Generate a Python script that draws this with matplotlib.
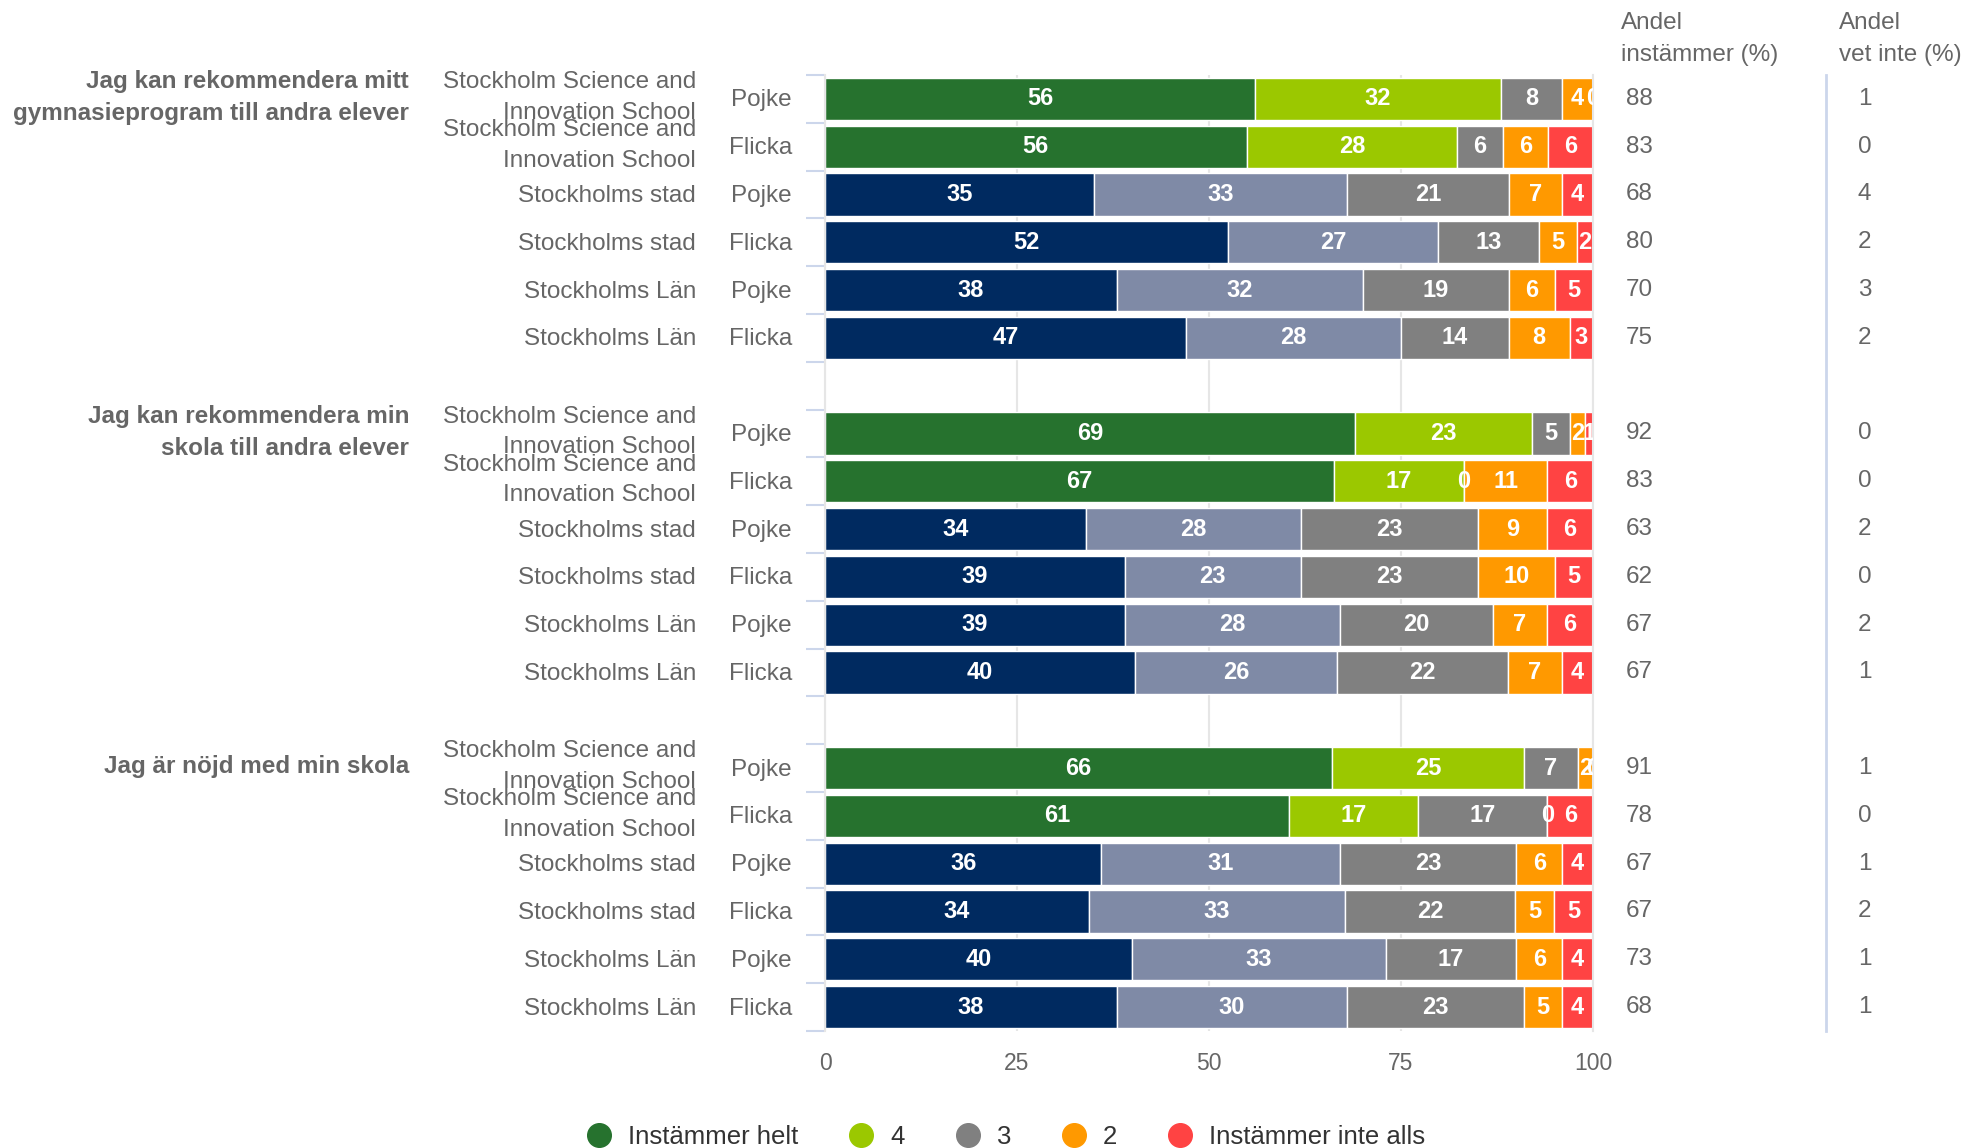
import numpy as np
import matplotlib
matplotlib.use('Agg')
import matplotlib.pyplot as plt
from matplotlib.lines import Line2D
from matplotlib.transforms import blended_transform_factory

plt.rcParams['font.family'] = ['Liberation Sans', 'DejaVu Sans']

questions = ['Jag kan rekommendera mitt\ngymnasieprogram till andra elever',
             'Jag kan rekommendera min\nskola till andra elever',
             'Jag är nöjd med min skola']
units = ['Stockholm Science and\nInnovation School', 'Stockholm Science and\nInnovation School',
         'Stockholms stad', 'Stockholms stad', 'Stockholms Län', 'Stockholms Län']
genders = ['Pojke', 'Flicka', 'Pojke', 'Flicka', 'Pojke', 'Flicka']
series_names = ['Instämmer helt', '4', '3', '2', 'Instämmer inte alls']

# columns: Instämmer helt, 4, 3, 2, Instämmer inte alls
q1_values = [[56, 32, 8, 4, 0],
             [56, 28, 6, 6, 6],
             [35, 33, 21, 7, 4],
             [52, 27, 13, 5, 2],
             [38, 32, 19, 6, 5],
             [47, 28, 14, 8, 3]]
q2_values = [[69, 23, 5, 2, 1],
             [67, 17, 0, 11, 6],
             [34, 28, 23, 9, 6],
             [39, 23, 23, 10, 5],
             [39, 28, 20, 7, 6],
             [40, 26, 22, 7, 4]]
q3_values = [[66, 25, 7, 2, 0],
             [61, 17, 17, 0, 6],
             [36, 31, 23, 6, 4],
             [34, 33, 22, 5, 5],
             [40, 33, 17, 6, 4],
             [38, 30, 23, 5, 4]]
agree_pct = [[88, 83, 68, 80, 70, 75],
             [92, 83, 63, 62, 67, 67],
             [91, 78, 67, 67, 73, 68]]
dontknow_pct = [[1, 0, 4, 2, 3, 2],
                [0, 0, 2, 0, 2, 1],
                [1, 0, 1, 2, 1, 1]]

school_colors = ['#26722e', '#9bc800', '#808080', '#ff9900', '#ff4343']
other_colors = ['#002a60', '#7f8aa6', '#808080', '#ff9900', '#ff4343']
label_grey = '#666666'

W, H = 1987, 1148
fig = plt.figure(figsize=(W / 100, H / 100), dpi=100)
ax = fig.add_axes([825 / W, 1 - 1031 / H, (1593 - 825) / W, (1031 - 75) / H])

all_values = [q1_values, q2_values, q3_values]
for g, vals in enumerate(all_values):
    for i, row in enumerate(vals):
        y = g * 7 + i
        colors = school_colors if i < 2 else other_colors
        total = float(sum(row))
        left = 0
        for k, v in enumerate(row):
            # percent stacking: each bar fills 0-100
            w = v / total * 100
            ax.barh(y, w, left=left, height=0.88, color=colors[k],
                    edgecolor='white', linewidth=1, zorder=2)
            ax.text(left + w / 2, y, str(v), ha='center', va='center', color='white',
                    fontsize=17, fontweight='bold', zorder=3, clip_on=True)
            left += w

ax.set_xlim(0, 100)
ax.set_ylim(19.5, -0.5)
ax.set_xticks([0, 25, 50, 75, 100])
ax.tick_params(axis='x', length=0, labelsize=16.5, labelcolor=label_grey, pad=15)
ax.xaxis.grid(True, color='#e6e6e6', linewidth=1.5, zorder=0)
ax.set_axisbelow(True)
ax.set_yticks(np.arange(-0.5, 20, 1))
ax.set_yticklabels([])
ax.tick_params(axis='y', length=14, width=1.5, color='#ccd6eb')
for s in ['top', 'bottom']:
    ax.spines[s].set_visible(False)
ax.spines['left'].set_color('#e6e6e6')
ax.spines['right'].set_color('#e6e6e6')
ax.spines['left'].set_linewidth(1.5)
ax.spines['right'].set_linewidth(1.5)

tr = blended_transform_factory(fig.transFigure, ax.transData)
for g in range(3):
    ax.text(409 / W, g * 7 - 0.03, questions[g], transform=tr, ha='right', va='center',
            fontsize=17.5, fontweight='bold', color=label_grey, linespacing=1.5)
    for i in range(6):
        y = g * 7 + i
        dy = -0.03 if '\n' in units[i] else 0.03
        ax.text(696 / W, y + dy, units[i], transform=tr, ha='right', va='center',
                fontsize=17.5, color=label_grey, linespacing=1.5)
        ax.text(792 / W, y + 0.03, genders[i], transform=tr, ha='right', va='center',
                fontsize=17.5, color=label_grey)
        ax.text(1626 / W, y, str(agree_pct[g][i]), transform=tr, ha='left',
                va='center', fontsize=17.5, color=label_grey)
        ax.text(1858 / W, y, str(dontknow_pct[g][i]), transform=tr, ha='left',
                va='center', fontsize=17.5, color=label_grey)

fig.text(1621 / W, 1 - 12 / H, 'Andel\ninstämmer (%)', ha='left', va='top',
         fontsize=17.5, color=label_grey, linespacing=1.6)
fig.text(1839 / W, 1 - 12 / H, 'Andel\nvet inte (%)', ha='left', va='top',
         fontsize=17.5, color=label_grey, linespacing=1.6)
fig.add_artist(Line2D([1826 / W, 1826 / W], [1 - 75 / H, 1 - 1031 / H],
                      transform=fig.transFigure, color='#ccd6eb', linewidth=2))

handles = [Line2D([], [], marker='o', linestyle='none', markersize=17,
                  markerfacecolor=c, markeredgecolor=c) for c in school_colors]
fig.legend(handles, series_names, loc='center', bbox_to_anchor=(1006 / W, 1 - 1137 / H),
           ncol=5, frameon=False, fontsize=18.5, handlelength=1.0,
           handletextpad=0.63, columnspacing=1.95, labelcolor='#333333')

fig.savefig('out.png', dpi=100)
